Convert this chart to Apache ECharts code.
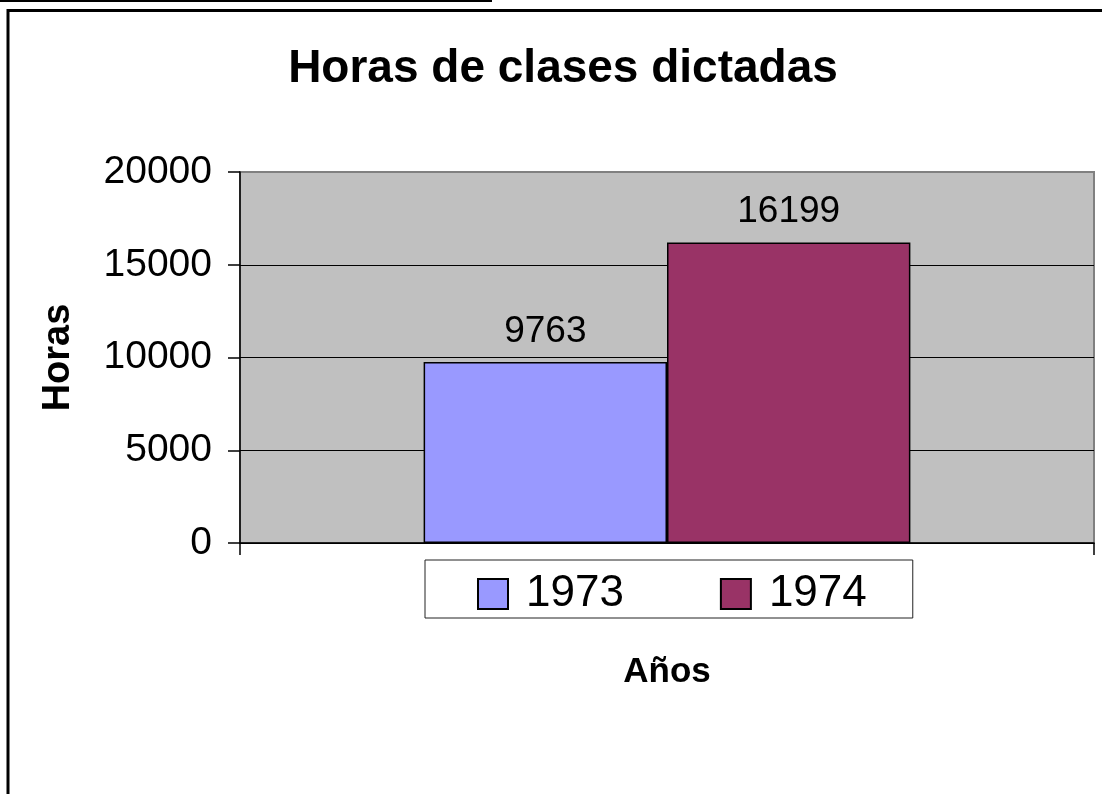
<!DOCTYPE html>
<html>
<head>
<meta charset="utf-8">
<script src="https://cdn.jsdelivr.net/npm/echarts@6/dist/echarts.min.js"></script>
<style>
html,body{margin:0;padding:0;background:#fff;}
#chart{width:1102px;height:794px;}
</style>
</head>
<body>
<div id="chart"></div>
<script>
const categories = [''];
const seriesNames = ['1973', '1974'];
const values1973 = [9763];
const values1974 = [16199];
const yTicks = [0, 5000, 10000, 15000, 20000];

const FONT = '"Liberation Sans", Arial, sans-serif';
const chart = echarts.init(document.getElementById('chart'), null, {renderer: 'canvas'});

const option = {
  animation: false,
  backgroundColor: '#fff',
  title: {
    text: 'Horas de clases dictadas',
    left: 558, top: 41, textAlign: 'center',
    textStyle: {fontFamily: FONT, fontSize: 46, fontWeight: 'bold', color: '#000'}
  },
  grid: {
    left: 240, right: 8, top: 172, bottom: 251,
    show: true, backgroundColor: '#C0C0C0', borderColor: '#808080', borderWidth: 2
  },
  legend: {
    data: seriesNames,
    left: 425, top: 560,
    icon: 'rect',
    itemWidth: 30, itemHeight: 30, itemGap: 96,
    padding: [12, 46, 2, 52],
    borderColor: '#222', borderWidth: 1, backgroundColor: '#fff',
    textStyle: {fontFamily: FONT, fontSize: 44, color: '#000', padding: [0, 0, 0, 13]}
  },
  xAxis: {
    type: 'category', data: categories,
    name: 'Años', nameLocation: 'middle', nameGap: 112,
    nameTextStyle: {fontFamily: FONT, fontSize: 35, fontWeight: 'bold', color: '#000'},
    axisLine: {lineStyle: {color: '#000', width: 1.5}},
    axisTick: {show: true, length: 12, lineStyle: {color: '#000', width: 1.5}},
    axisLabel: {show: false}
  },
  yAxis: {
    type: 'value', min: yTicks[0], max: yTicks[yTicks.length - 1], interval: yTicks[1] - yTicks[0],
    name: 'Horas', nameLocation: 'middle', nameGap: 162, nameRotate: 90,
    nameTextStyle: {fontFamily: FONT, fontSize: 38, fontWeight: 'bold', color: '#000'},
    axisLine: {show: true, lineStyle: {color: '#000', width: 1.5}},
    axisTick: {show: true, length: 12, lineStyle: {color: '#000', width: 1.5}},
    axisLabel: {margin: 28, fontFamily: FONT, fontSize: 39, color: '#000', formatter: function (v) { return String(v); }},
    splitLine: {show: true, showMaxLine: false, lineStyle: {color: '#000', width: 1}}
  },
  series: [
    {
      name: seriesNames[0], type: 'bar', data: values1973,
      barGap: '0%', barCategoryGap: '43%',
      itemStyle: {color: '#9999FF', borderColor: '#000', borderWidth: 1.5},
      label: {show: true, position: 'top', distance: 12, fontFamily: FONT, fontSize: 37, color: '#000'}
    },
    {
      name: seriesNames[1], type: 'bar', data: values1974,
      barGap: '0%', barCategoryGap: '43%',
      itemStyle: {color: '#993366', borderColor: '#000', borderWidth: 1.5},
      label: {show: true, position: 'top', distance: 12, fontFamily: FONT, fontSize: 37, color: '#000'}
    }
  ],
  graphic: [
    {type: 'line', shape: {x1: 0, y1: 1, x2: 492, y2: 1}, style: {stroke: '#000', lineWidth: 2}, silent: true},
    {type: 'polyline', shape: {points: [[8, 800], [8, 10.5], [1110, 10.5]]}, style: {stroke: '#000', lineWidth: 3, fill: null}, silent: true}
  ]
};
chart.setOption(option);
</script>
</body>
</html>
